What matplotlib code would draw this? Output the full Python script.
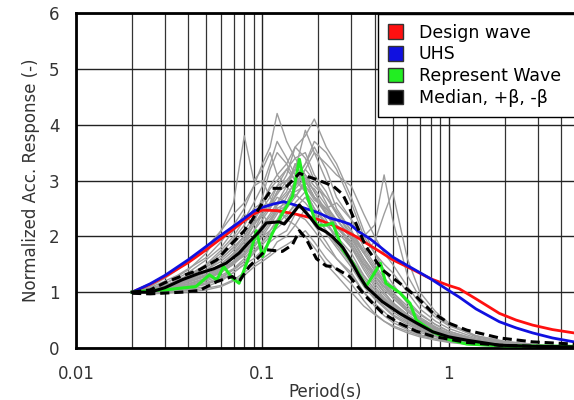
import numpy as np
import matplotlib
matplotlib.use('Agg')
import matplotlib.pyplot as plt
from matplotlib.patches import Patch

# period grid shared by the individual records (grey)
periods_rec = [0.02, 0.025, 0.03, 0.035, 0.04, 0.05, 0.06, 0.07, 0.08, 0.09, 0.1, 0.11,
               0.12, 0.135, 0.15, 0.17, 0.19, 0.22, 0.25, 0.3, 0.35, 0.4, 0.45, 0.5,
               0.6, 0.7, 0.85, 1.0, 1.4, 2.0, 3.0, 5.0]
records = [
    [1.0, 1.08, 1.2, 1.3, 1.42, 1.62, 1.9, 2.2, 2.5, 2.9, 3.3, 3.6, 4.2, 3.7, 3.4, 3.5, 3.1, 2.8, 2.4, 2.0, 1.6, 1.3, 1.05, 0.9, 0.65, 0.5, 0.35, 0.26, 0.14, 0.07, 0.04, 0.02],
    [1.0, 1.02, 1.1, 1.22, 1.3, 1.48, 1.7, 1.95, 2.2, 2.5, 2.6, 2.9, 3.1, 3.3, 3.6, 3.8, 4.1, 3.6, 3.3, 2.7, 2.1, 1.7, 1.4, 1.15, 0.8, 0.6, 0.42, 0.3, 0.16, 0.08, 0.04, 0.02],
    [1.0, 1.05, 1.15, 1.28, 1.4, 1.7, 2.1, 2.6, 3.8, 3.0, 3.2, 3.5, 3.1, 2.9, 3.3, 3.0, 2.7, 2.5, 2.2, 1.8, 1.4, 1.1, 0.9, 0.75, 0.55, 0.42, 0.3, 0.22, 0.12, 0.06, 0.03, 0.02],
    [1.0, 0.98, 1.0, 1.02, 1.05, 1.1, 1.2, 1.35, 1.5, 1.6, 1.75, 1.9, 2.0, 2.1, 2.4, 2.3, 2.1, 1.8, 1.6, 1.3, 1.0, 0.8, 0.65, 0.5, 0.38, 0.28, 0.2, 0.14, 0.07, 0.04, 0.02, 0.01],
    [1.0, 1.03, 1.12, 1.2, 1.3, 1.45, 1.6, 1.8, 2.0, 2.3, 2.5, 2.7, 2.9, 3.0, 2.8, 2.9, 2.7, 2.5, 2.6, 2.3, 2.0, 2.2, 3.1, 2.3, 1.3, 0.9, 0.6, 0.42, 0.2, 0.1, 0.05, 0.03],
    [1.0, 1.04, 1.1, 1.18, 1.25, 1.4, 1.55, 1.75, 2.0, 2.3, 2.7, 2.5, 2.8, 3.1, 3.6, 3.4, 3.0, 2.6, 2.2, 1.9, 1.5, 1.2, 1.0, 0.8, 0.6, 0.45, 0.32, 0.24, 0.12, 0.06, 0.03, 0.02],
    [1.0, 1.1, 1.25, 1.4, 1.55, 1.8, 2.1, 2.4, 2.6, 2.9, 3.0, 2.7, 2.5, 2.3, 2.2, 2.0, 1.8, 1.5, 1.3, 1.0, 0.75, 0.6, 0.48, 0.4, 0.3, 0.22, 0.16, 0.11, 0.06, 0.03, 0.02, 0.01],
    [1.0, 1.0, 1.02, 1.05, 1.08, 1.15, 1.25, 1.4, 1.55, 1.7, 1.9, 2.1, 2.3, 2.6, 2.9, 3.2, 3.5, 3.3, 3.1, 2.9, 2.4, 2.0, 1.7, 1.5, 1.1, 0.8, 0.55, 0.4, 0.22, 0.12, 0.06, 0.03],
    [1.0, 1.02, 1.08, 1.15, 1.2, 1.32, 1.45, 1.62, 1.85, 2.1, 2.4, 2.2, 2.6, 2.9, 3.2, 3.9, 3.5, 3.0, 2.5, 2.1, 1.7, 1.4, 1.2, 1.0, 0.7, 0.5, 0.36, 0.26, 0.13, 0.07, 0.03, 0.02],
    [1.0, 0.99, 1.0, 1.01, 1.03, 1.07, 1.12, 1.22, 1.35, 1.5, 1.6, 1.7, 1.9, 2.0, 2.2, 2.5, 2.2, 1.9, 1.6, 1.35, 1.0, 0.75, 0.58, 0.46, 0.33, 0.24, 0.17, 0.12, 0.06, 0.03, 0.02, 0.01],
    [1.0, 1.06, 1.16, 1.25, 1.35, 1.58, 1.8, 2.1, 2.4, 2.2, 2.7, 3.2, 3.5, 3.3, 3.0, 3.3, 3.6, 3.2, 2.7, 2.3, 1.8, 1.5, 1.25, 1.1, 0.85, 0.62, 0.42, 0.3, 0.15, 0.08, 0.04, 0.02],
    [1.0, 1.05, 1.13, 1.2, 1.3, 1.5, 1.75, 2.0, 2.3, 2.6, 2.9, 3.3, 3.7, 3.4, 3.1, 2.8, 2.6, 2.3, 1.9, 1.6, 1.3, 1.05, 0.85, 0.7, 0.5, 0.38, 0.26, 0.19, 0.1, 0.05, 0.03, 0.01],
    [1.0, 1.0, 1.03, 1.07, 1.1, 1.2, 1.3, 1.42, 1.6, 1.8, 2.0, 2.2, 2.4, 2.7, 3.0, 2.8, 2.5, 2.2, 2.0, 1.6, 1.25, 1.0, 0.85, 0.7, 0.5, 0.36, 0.25, 0.18, 0.09, 0.05, 0.02, 0.01],
    [1.0, 1.02, 1.06, 1.12, 1.18, 1.3, 1.45, 1.65, 1.9, 2.2, 2.4, 2.6, 2.9, 3.2, 3.0, 3.3, 3.7, 3.5, 3.2, 2.6, 2.0, 1.7, 1.5, 1.35, 1.0, 0.7, 0.48, 0.35, 0.18, 0.09, 0.04, 0.02],
    [1.0, 1.04, 1.1, 1.16, 1.22, 1.36, 1.5, 1.68, 1.9, 2.1, 2.3, 2.5, 2.7, 2.6, 2.9, 3.1, 2.8, 2.4, 2.1, 1.8, 1.5, 1.3, 1.1, 0.95, 0.7, 0.52, 0.36, 0.26, 0.13, 0.07, 0.03, 0.02],
    [1.0, 1.01, 1.05, 1.1, 1.15, 1.25, 1.38, 1.55, 1.75, 2.0, 2.2, 2.4, 2.6, 2.8, 3.3, 3.0, 2.7, 2.4, 2.2, 2.0, 1.7, 1.9, 2.4, 2.8, 1.6, 1.0, 0.65, 0.45, 0.22, 0.11, 0.05, 0.03],
    [1.0, 0.97, 0.98, 1.0, 1.0, 1.04, 1.1, 1.2, 1.3, 1.45, 1.55, 1.65, 1.75, 1.85, 1.95, 2.1, 1.9, 1.6, 1.4, 1.15, 0.85, 0.62, 0.48, 0.38, 0.27, 0.2, 0.14, 0.1, 0.05, 0.02, 0.01, 0.01],
    [1.0, 1.03, 1.08, 1.14, 1.2, 1.3, 1.42, 1.55, 1.7, 1.95, 2.15, 2.3, 2.5, 2.6, 2.75, 2.6, 2.4, 2.1, 1.85, 1.5, 1.15, 0.9, 0.75, 0.6, 0.45, 0.33, 0.23, 0.17, 0.08, 0.04, 0.02, 0.01],
    [1.0, 1.01, 1.04, 1.08, 1.12, 1.22, 1.35, 1.5, 1.7, 1.9, 2.05, 2.25, 2.45, 2.35, 2.6, 2.8, 2.5, 2.25, 2.0, 1.7, 1.3, 1.05, 0.88, 0.72, 0.52, 0.38, 0.27, 0.2, 0.1, 0.05, 0.02, 0.01],
    [1.0, 1.02, 1.07, 1.12, 1.18, 1.28, 1.4, 1.52, 1.65, 1.85, 2.0, 2.1, 2.25, 2.5, 2.7, 3.0, 2.7, 2.4, 2.15, 1.9, 1.55, 1.25, 1.0, 0.82, 0.6, 0.44, 0.3, 0.22, 0.11, 0.05, 0.03, 0.01],
    [1.0, 1.04, 1.1, 1.17, 1.25, 1.4, 1.6, 1.8, 2.0, 2.25, 2.35, 2.55, 2.8, 2.9, 2.7, 2.95, 2.85, 2.55, 2.3, 1.95, 1.6, 1.3, 1.1, 0.9, 0.66, 0.48, 0.33, 0.24, 0.12, 0.06, 0.03, 0.02],
    [1.0, 1.0, 1.02, 1.04, 1.07, 1.14, 1.23, 1.35, 1.5, 1.7, 1.85, 2.0, 2.2, 2.4, 2.55, 2.45, 2.3, 2.05, 1.8, 1.45, 1.1, 0.88, 0.72, 0.58, 0.42, 0.31, 0.21, 0.15, 0.07, 0.03, 0.02, 0.01],
    [1.0, 1.05, 1.12, 1.2, 1.28, 1.45, 1.65, 1.85, 2.1, 2.35, 2.6, 2.85, 3.0, 3.2, 3.4, 3.1, 2.9, 2.7, 2.45, 2.1, 1.75, 1.45, 1.2, 1.0, 0.75, 0.55, 0.38, 0.27, 0.14, 0.07, 0.03, 0.02],
    [1.0, 1.02, 1.06, 1.1, 1.15, 1.25, 1.38, 1.55, 1.75, 2.0, 2.2, 2.35, 2.55, 2.75, 2.95, 3.2, 3.0, 2.7, 2.4, 2.05, 1.7, 1.4, 1.15, 0.95, 0.68, 0.5, 0.34, 0.25, 0.12, 0.06, 0.03, 0.02],
    [1.0, 1.01, 1.03, 1.06, 1.1, 1.17, 1.27, 1.4, 1.55, 1.75, 1.9, 2.05, 2.15, 2.3, 2.5, 2.7, 2.45, 2.1, 1.85, 1.55, 1.2, 0.95, 0.8, 0.65, 0.47, 0.34, 0.24, 0.17, 0.08, 0.04, 0.02, 0.01],
    [1.0, 1.03, 1.09, 1.15, 1.22, 1.35, 1.5, 1.7, 1.95, 2.2, 2.45, 2.6, 2.75, 3.0, 3.2, 2.9, 2.65, 2.5, 2.3, 2.0, 1.6, 1.35, 1.15, 0.95, 0.7, 0.52, 0.36, 0.26, 0.13, 0.06, 0.03, 0.02],
    [1.0, 1.02, 1.05, 1.09, 1.14, 1.24, 1.36, 1.5, 1.68, 1.9, 2.1, 2.3, 2.45, 2.55, 2.85, 3.05, 2.8, 2.45, 2.2, 1.85, 1.45, 1.15, 0.95, 0.78, 0.57, 0.42, 0.29, 0.21, 0.1, 0.05, 0.02, 0.01],
]

design_T = [0.02, 0.025, 0.03, 0.04, 0.05, 0.06, 0.07, 0.08, 0.09, 0.1, 0.12, 0.15, 0.2, 0.23,
            0.27, 0.32, 0.36, 0.43, 0.5, 0.62, 0.8, 1.0, 1.14, 1.4, 1.87, 2.3, 2.82, 3.6, 4.7]
design_sa = [1.0, 1.14, 1.28, 1.53, 1.76, 1.96, 2.13, 2.28, 2.4, 2.47, 2.46, 2.4, 2.3, 2.22,
             2.12, 1.99, 1.88, 1.72, 1.58, 1.43, 1.24, 1.12, 1.06, 0.88, 0.62, 0.5, 0.41, 0.33, 0.27]

uhs_T = [0.02, 0.025, 0.03, 0.04, 0.05, 0.06, 0.07, 0.08, 0.09, 0.1, 0.115, 0.13, 0.15, 0.17,
         0.2, 0.229, 0.26, 0.294, 0.33, 0.38, 0.425, 0.5, 0.62, 0.79, 1.0, 1.14, 1.4, 1.87,
         2.3, 2.82, 3.6, 4.7]
uhs_sa = [1.0, 1.15, 1.3, 1.58, 1.82, 2.02, 2.18, 2.32, 2.45, 2.52, 2.58, 2.62, 2.56, 2.5,
          2.42, 2.33, 2.28, 2.22, 2.08, 1.95, 1.82, 1.63, 1.45, 1.25, 1.03, 0.91, 0.7, 0.47,
          0.36, 0.27, 0.18, 0.11]

rep_T = [0.02, 0.025, 0.03, 0.036, 0.044, 0.052, 0.057, 0.062, 0.069, 0.075, 0.085, 0.093,
         0.1, 0.113, 0.128, 0.145, 0.158, 0.17, 0.195, 0.22, 0.238, 0.27, 0.306, 0.36, 0.43,
         0.46, 0.546, 0.62, 0.67, 0.82, 1.0, 1.25, 2.0, 4.7]
rep_sa = [1.0, 1.03, 1.04, 1.07, 1.1, 1.31, 1.22, 1.46, 1.25, 1.16, 1.64, 2.1,
          1.64, 2.05, 2.41, 2.71, 3.38, 2.83, 2.2, 2.2, 2.24, 1.76, 1.52, 1.1, 1.52,
          1.16, 0.99, 0.8, 0.5, 0.29, 0.15, 0.07, 0.04, 0.03]

med_T = [0.02, 0.025, 0.03, 0.037, 0.046, 0.055, 0.064, 0.075, 0.085, 0.096, 0.105, 0.123,
         0.131, 0.145, 0.158, 0.179, 0.2, 0.22, 0.238, 0.27, 0.294, 0.33, 0.36, 0.44, 0.546,
         0.67, 0.82, 1.0, 1.25, 1.87, 2.8, 4.7]
med_sa = [1.0, 1.0, 1.08, 1.22, 1.34, 1.42, 1.52, 1.7, 1.9, 2.08, 2.24, 2.26,
          2.22, 2.4, 2.56, 2.35, 2.15, 2.08, 1.99, 1.8, 1.6, 1.3, 1.1, 0.83, 0.62,
          0.45, 0.29, 0.2, 0.14, 0.05, 0.03, 0.02]

upper_T = [0.02, 0.025, 0.03, 0.037, 0.046, 0.057, 0.069, 0.08, 0.088, 0.1, 0.113, 0.132,
           0.145, 0.158, 0.175, 0.195, 0.24, 0.27, 0.294, 0.33, 0.36, 0.44, 0.546, 0.67, 0.82,
           1.01, 1.25, 1.87, 2.82, 4.7]
upper_sa = [1.0, 1.04, 1.17, 1.29, 1.4, 1.58, 1.88, 2.1, 2.29, 2.6, 2.86, 2.86,
            3.0, 3.13, 3.07, 3.02, 2.9, 2.75, 2.5, 2.1, 1.81, 1.4, 1.16, 0.92, 0.63,
            0.44, 0.32, 0.18, 0.11, 0.07]

lower_T = [0.02, 0.025, 0.037, 0.046, 0.057, 0.069, 0.075, 0.085, 0.105, 0.128, 0.145, 0.158,
           0.172, 0.195, 0.22, 0.238, 0.294, 0.36, 0.44, 0.546, 0.67, 0.82, 1.25, 1.87, 4.7]
lower_sa = [0.98, 0.97, 1.0, 1.03, 1.19, 1.28, 1.19, 1.46, 1.76, 1.73, 1.85, 2.1,
            1.95, 1.6, 1.47, 1.46, 1.28, 0.92, 0.63, 0.44, 0.3, 0.21, 0.1, 0.05, 0.01]

fig = plt.figure(figsize=(5.74, 4.0), dpi=100)
ax = fig.add_axes([76 / 574, 52 / 400, 1 - 76 / 574, 335 / 400])

for rec in records:
    ax.plot(periods_rec, rec, color='#9d9d9d', lw=1.0, zorder=2)

ax.plot(design_T, design_sa, color='#ff1010', lw=2.0, zorder=3)
ax.plot(uhs_T, uhs_sa, color='#1010e0', lw=2.0, zorder=4)
ax.plot(rep_T, rep_sa, color='#22ee22', lw=2.2, zorder=5)
ax.plot(upper_T, upper_sa, color='black', lw=2.2, ls=(0, (3, 1.6)), zorder=6)
ax.plot(lower_T, lower_sa, color='black', lw=2.2, ls=(0, (3, 1.6)), zorder=6)
ax.plot(med_T, med_sa, color='black', lw=2.2, zorder=7)

ax.set_xscale('log')
ax.set_xlim(0.01, 4.7)
ax.set_ylim(0, 6)
ax.set_yticks(range(0, 7))
ax.set_xticks([0.01, 0.1, 1])
ax.set_xticklabels(['0.01', '0.1', '1'])
ax.grid(True, which='major', color='#222222', lw=1.0, zorder=1)
ax.grid(True, which='minor', axis='x', color='#333333', lw=0.9, zorder=1)
ax.tick_params(which='both', length=0, labelsize=12, labelcolor='#333333', pad=12)
for s in ['left', 'bottom', 'top']:
    ax.spines[s].set_linewidth(2.0)
ax.spines['right'].set_visible(False)

ax.set_xlabel('Period(s)', fontsize=12, color='#333333', labelpad=0)
ax.set_ylabel('Normalized Acc. Response (-)', fontsize=12, color='#333333', labelpad=6)

handles = [Patch(facecolor=c, edgecolor='#333333') for c in ['#ff1010', '#1010e0', '#22ee22', 'black']]
labels = ['Design wave', 'UHS', 'Represent Wave', 'Median, +β, -β']
leg = fig.legend(handles, labels, loc='upper left', mode='expand',
                 bbox_to_anchor=(378 / 574, 0, 0.4, 1 - 14 / 400),
                 fontsize=12.5, frameon=True, fancybox=False, framealpha=1, edgecolor='black',
                 handlelength=0.9, handleheight=0.9, handletextpad=0.9, labelspacing=0.22,
                 borderpad=0.55, borderaxespad=0)
leg.get_frame().set_linewidth(1.0)

fig.savefig('out.png', dpi=100)
